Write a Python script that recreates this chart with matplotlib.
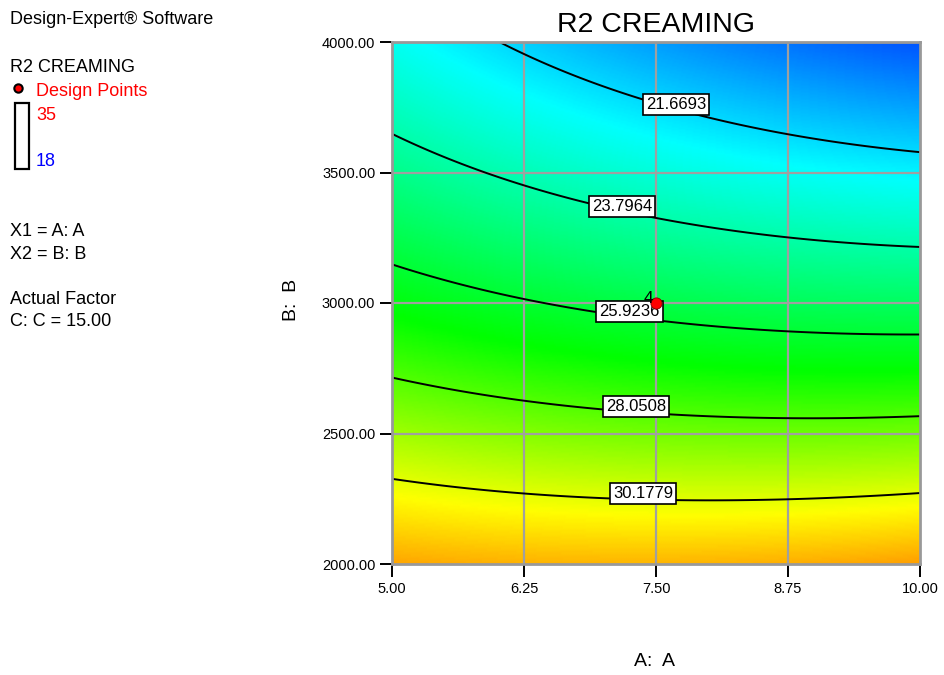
import numpy as np
import matplotlib
matplotlib.use("Agg")
import matplotlib.pyplot as plt
from matplotlib.colors import LinearSegmentedColormap
from matplotlib.patches import Rectangle

plt.rcParams['font.family'] = ['Liberation Sans', 'DejaVu Sans']

# Quadratic response-surface model (coded units a=(A-7.5)/2.5, b=(B-3000)/1000)
coef_names = ["b0", "A", "B", "AB", "A2", "B2"]
coef_values = [25.55, -0.74, -5.61, -0.80, 0.33, 0.70]

contour_levels = [21.6693, 23.7964, 25.9236, 28.0508, 30.1779]
label_A = [7.69, 7.18, 7.25, 7.31, 7.38]
label_B = [3759, 3368, 2966, 2605, 2272]

design_A = [7.5]
design_B = [3000]
design_label = ["4"]

x_ticks = [5.00, 6.25, 7.50, 8.75, 10.00]
y_ticks = [2000.00, 2500.00, 3000.00, 3500.00, 4000.00]
color_min, color_max = 18, 35


def model(A, B):
    a = (A - 7.5) / 2.5
    b = (B - 3000) / 1000
    c = dict(zip(coef_names, coef_values))
    return (c["b0"] + c["A"] * a + c["B"] * b + c["AB"] * a * b
            + c["A2"] * a ** 2 + c["B2"] * b ** 2)


cmap = LinearSegmentedColormap.from_list(
    "de", [(0.0, "#0000ff"), (0.25, "#00ffff"), (0.52, "#00ff00"),
           (0.74, "#ffff00"), (1.0, "#ff0000")])

fig = plt.figure(figsize=(9.44, 6.75), dpi=100)
ax = fig.add_axes([392 / 944, 1 - 564 / 675, 528 / 944, 522 / 675])

Ag = np.linspace(5, 10, 300)
Bg = np.linspace(2000, 4000, 300)
AA, BB = np.meshgrid(Ag, Bg)
ZZ = model(AA, BB)
ax.pcolormesh(AA, BB, ZZ, cmap=cmap, vmin=color_min, vmax=color_max,
              shading="gouraud", zorder=0)

for xv in x_ticks[1:-1]:
    ax.axvline(xv, color="#a0a0a0", lw=1.6, zorder=1)
for yv in y_ticks[1:-1]:
    ax.axhline(yv, color="#a0a0a0", lw=1.6, zorder=1)

ax.contour(AA, BB, ZZ, levels=contour_levels, colors="black",
           linewidths=1.4, zorder=2)

for lv, la, lb in zip(contour_levels, label_A, label_B):
    ax.text(la, lb, f"{lv:.4f}", fontsize=12, ha="center", va="center",
            zorder=4,
            bbox=dict(boxstyle="square,pad=0.18", fc="white", ec="black",
                      lw=1.2))

ax.scatter(design_A, design_B, s=65, color="red", edgecolors="#800000",
           linewidths=0.6, zorder=5)
for da, db, dl in zip(design_A, design_B, design_label):
    ax.text(da - 0.03, db - 10, dl, fontsize=12.5, ha="right", va="bottom",
            zorder=5)

ax.set_xlim(5, 10)
ax.set_ylim(2000, 4000)
ax.set_xticks(x_ticks)
ax.set_yticks(y_ticks)
ax.set_xticklabels([f"{v:.2f}" for v in x_ticks], fontsize=10.5)
ax.set_yticklabels([f"{v:.2f}" for v in y_ticks], fontsize=10.5)
ax.tick_params(direction="out", length=9, width=1.4, color="black", pad=4)
ax.tick_params(axis="y", pad=3)
for sp in ax.spines.values():
    sp.set_color("#999999")
    sp.set_linewidth(2)

ax.set_title("R2 CREAMING", fontsize=20.5, pad=7)
fig.text(655 / 944, 1 - 662 / 675, "A:  A", fontsize=14, ha="center",
         va="center")
fig.text(291 / 944, 1 - 300 / 675, "B:  B", fontsize=14, ha="center",
         va="center", rotation=90)

# left information panel
fs = 13


def ftxt(x, y, s, **kw):
    fig.text(x / 944, 1 - y / 675, s, fontsize=fs, va="center", ha="left", **kw)


ftxt(10, 20, "Design-Expert® Software")
ftxt(10, 67, "R2 CREAMING")
ftxt(36, 91, "Design Points", color="red")
fig.add_artist(plt.Line2D([18 / 944], [1 - 88 / 675], marker="o",
                          markersize=6, color="red", markeredgecolor="black",
                          markeredgewidth=1.5, transform=fig.transFigure))
fig.add_artist(Rectangle((15 / 944, 1 - 169 / 675), 14 / 944, 66 / 675,
                         fill=False, ec="black", lw=1.6,
                         transform=fig.transFigure))
ftxt(36, 115, "35", color="red")
ftxt(36, 161, "18", color="blue")
ftxt(10, 231, "X1 = A: A")
ftxt(10, 254, "X2 = B: B")
ftxt(10, 300, "Actual Factor")
ftxt(10, 322, "C: C = 15.00")

fig.savefig("out.png", dpi=100)
